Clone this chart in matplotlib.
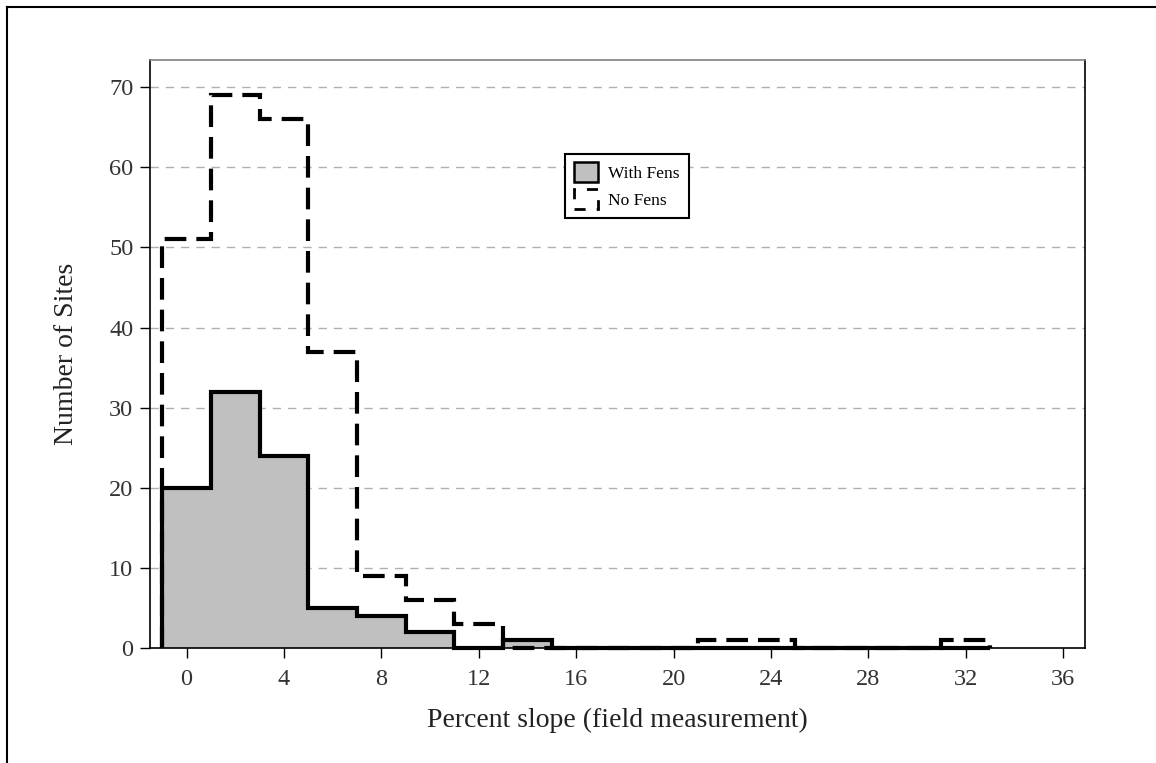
import matplotlib
matplotlib.use('Agg')
import matplotlib.pyplot as plt
from matplotlib.lines import Line2D
from matplotlib.patches import Patch
import numpy as np

matplotlib.rc('font', family=['Liberation Serif', 'DejaVu Serif'])

# bin edges: 2-percent bins centred on even numbers
bin_edges = np.arange(-1, 34, 2)
with_fens = [20, 32, 24, 5, 4, 2, 0, 1, 0, 0, 0, 0, 0, 0, 0, 0, 0]
no_fens = [51, 69, 66, 37, 9, 6, 3, 0, 0, 0, 0, 1, 1, 0, 0, 0, 1]
x_ticks = list(range(0, 37, 4))
y_ticks = list(range(0, 71, 10))

fig = plt.figure(figsize=(11.56, 7.63), dpi=100)
ax = fig.add_axes([150 / 1156, 1 - 648 / 763, 935 / 1156, 588 / 763])

ax.stairs(with_fens, bin_edges, fill=True, color='#c0c0c0', zorder=2)
ax.stairs(no_fens, bin_edges, color='black', lw=3.0,
          linestyle=(0, (5.2, 2.4)), zorder=3, clip_on=False)
ax.stairs(with_fens, bin_edges, color='black', lw=3.0, zorder=4,
          clip_on=False)

ax.set_xlim(-1.5, 36.9)
ax.set_ylim(0, 73.4)
ax.set_xticks(x_ticks)
ax.set_yticks(y_ticks)

for y in y_ticks[1:]:
    ax.axhline(y, color='#b0b0b0', lw=1.0, linestyle=(0, (6, 5)), zorder=1)

ax.tick_params(direction='out', length=7, width=1, labelsize=17.5,
               labelcolor='#333333', pad=5)
ax.tick_params(axis='x', pad=8)
ax.spines['top'].set_color('#808080')
ax.spines['right'].set_color('black')
for side in ['left', 'right', 'bottom', 'top']:
    ax.spines[side].set_linewidth(1.2)

ax.set_xlabel('Percent slope (field measurement)', fontsize=20, labelpad=13,
              color='#222222')
ax.set_ylabel('Number of Sites', fontsize=20, labelpad=22, color='#222222')

handles = [Patch(facecolor='#c0c0c0', edgecolor='black', lw=1.8),
           Patch(facecolor='white', edgecolor='black', lw=2.0,
                 linestyle=(0, (4, 4)))]
leg = ax.legend(handles, ['With Fens', 'No Fens'], fontsize=12.5,
                loc='lower left', bbox_to_anchor=(565 / 1156, 1 - 218 / 763),
                bbox_transform=fig.transFigure, fancybox=False,
                framealpha=1, edgecolor='black', handlelength=1.4,
                handleheight=1.4, handletextpad=0.6, borderpad=0.5,
                labelspacing=0.4, borderaxespad=0)
leg.get_frame().set_linewidth(1.5)

# outer border of the original image (top and left only)
fig.add_artist(Line2D([7 / 1156, 1], [1 - 7 / 763, 1 - 7 / 763],
                      color='black', lw=1.5))
fig.add_artist(Line2D([7 / 1156, 7 / 1156], [0, 1 - 7 / 763],
                      color='black', lw=1.5))

fig.savefig('out.png', dpi=100)
